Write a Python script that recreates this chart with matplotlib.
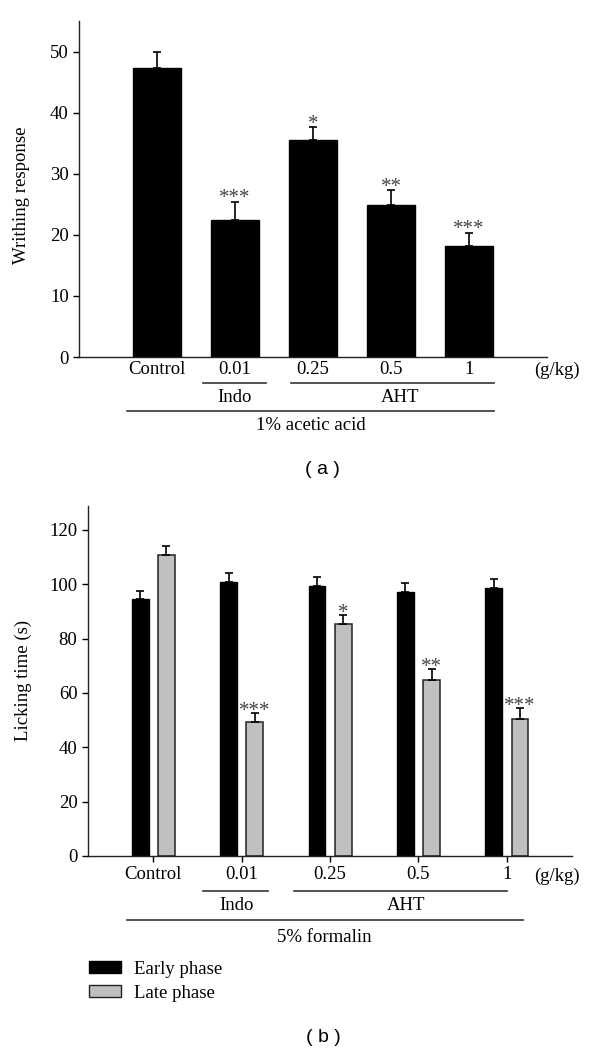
import numpy as np
import matplotlib.pyplot as plt
import matplotlib.transforms as mtransforms
from matplotlib.patches import Patch

plt.rcParams['font.family'] = ['Liberation Serif', 'DejaVu Serif']
plt.rcParams['font.size'] = 13.5

doses = ["Control", "0.01", "0.25", "0.5", "1"]

# (a) writhing test
writhing = [47.3, 22.5, 35.6, 24.9, 18.2]
writhing_err = [2.6, 2.9, 2.0, 2.4, 2.1]
writhing_sig = ["", "***", "*", "**", "***"]

# (b) formalin test
early = [94.5, 100.7, 99.4, 97.3, 98.6]
early_err = [3.1, 3.3, 3.4, 3.3, 3.2]
late = [110.7, 49.3, 85.3, 64.7, 50.3]
late_err = [3.3, 3.3, 3.4, 4.2, 4.2]
late_sig = ["", "***", "*", "**", "***"]

W, H = 600, 1054
fig = plt.figure(figsize=(W / 100, H / 100), dpi=100)


def fy(py):
    # pixel row (from top) -> figure fraction
    return (H - py) / H


def style_axes(ax):
    for s in ["top", "right"]:
        ax.spines[s].set_visible(False)
    for s in ["left", "bottom"]:
        ax.spines[s].set_linewidth(1.0)
        ax.spines[s].set_color("#222222")


def bracket(ax, x0, x1, py):
    tr = mtransforms.blended_transform_factory(ax.transData, fig.transFigure)
    ax.plot([x0, x1], [fy(py), fy(py)], color="#333333", lw=1.2,
            transform=tr, clip_on=False)


def label(ax, x, py, s, **kw):
    tr = mtransforms.blended_transform_factory(ax.transData, fig.transFigure)
    ax.text(x, fy(py), s, transform=tr, ha="center", va="center", **kw)


x = np.arange(len(doses))
err_kw = dict(ecolor="black", elinewidth=1.2, capsize=3.2, capthick=1.2)
star_kw = dict(ha="center", va="baseline", fontsize=15, color="#444444",
               textcoords="offset points")

# ---------------- (a) ----------------
ax1 = fig.add_axes([79 / W, fy(357), 468 / W, 336 / H])
style_axes(ax1)
ax1.bar(x, writhing, width=0.615, color="black", edgecolor="black",
        yerr=[np.zeros(len(x)), writhing_err], error_kw=err_kw)
for xi, v, e, s in zip(x, writhing, writhing_err, writhing_sig):
    if s:
        ax1.annotate(s, (xi, v + e), xytext=(0, -1), **star_kw)
ax1.set_xlim(-1, 5)
ax1.set_ylim(0, 55)
ax1.set_yticks([0, 10, 20, 30, 40, 50])
ax1.set_xticks(x)
ax1.set_xticklabels(doses)
ax1.tick_params(axis="x", length=0, pad=3)
ax1.tick_params(axis="y", length=4, width=1.0, pad=3.4)
ax1.set_ylabel("Writhing response")
ax1.yaxis.set_label_coords(-0.105, 0.48)

label(ax1, 5.13, 370, "(g/kg)")
bracket(ax1, 0.59, 1.40, 383)
bracket(ax1, 1.72, 4.32, 383)
label(ax1, 1.0, 398, "Indo")
label(ax1, 3.12, 398, "AHT")
bracket(ax1, -0.38, 4.32, 411)
label(ax1, 1.97, 426, "1% acetic acid")
fig.text(322 / W, fy(470), "( a )", ha="center", va="center",
         family="Liberation Sans", fontsize=14)

# ---------------- (b) ----------------
ax2 = fig.add_axes([87.7 / W, fy(856), 484.6 / W, 350.5 / H])
style_axes(ax2)
off = 0.148
bw = 0.19
ax2.bar(x - off, early, width=bw, color="black", edgecolor="black",
        yerr=[np.zeros(len(x)), early_err], error_kw=err_kw)
ax2.bar(x + off, late, width=bw, color="#c0c0c0", edgecolor="#222222",
        linewidth=1.1, yerr=[np.zeros(len(x)), late_err], error_kw=err_kw)
for xi, v, e, s in zip(x, late, late_err, late_sig):
    if s:
        ax2.annotate(s, (xi + off, v + e), xytext=(0, -2), **star_kw)
ax2.set_xlim(-0.742, 4.74)
ax2.set_ylim(0, 129)
ax2.set_yticks(np.arange(0, 121, 20))
ax2.set_xticks(x)
ax2.set_xticklabels(doses)
ax2.tick_params(axis="x", length=4, width=1.0, pad=3.5)
ax2.tick_params(axis="y", length=4, width=1.0, pad=3.4)
ax2.set_ylabel("Licking time (s)")
ax2.yaxis.set_label_coords(-0.115, 0.5)

label(ax2, 4.57, 876, "(g/kg)")
bracket(ax2, 0.562, 1.30, 891)
bracket(ax2, 1.59, 4.0, 891)
label(ax2, 0.94, 906, "Indo")
label(ax2, 2.86, 906, "AHT")
bracket(ax2, -0.30, 4.18, 920)
label(ax2, 1.94, 937, "5% formalin")

handles = [Patch(facecolor="black", edgecolor="black", label="Early phase"),
           Patch(facecolor="#c0c0c0", edgecolor="#222222", label="Late phase")]
fig.legend(handles=handles, loc="upper left", bbox_to_anchor=(89 / W, fy(961)),
           frameon=False, borderpad=0, borderaxespad=0, handlelength=1.7,
           handleheight=0.6, handletextpad=0.7, labelspacing=0.36)
fig.text(323 / W, fy(1037), "( b )", ha="center", va="center",
         family="Liberation Sans", fontsize=14)

fig.savefig("out.png", dpi=100)
